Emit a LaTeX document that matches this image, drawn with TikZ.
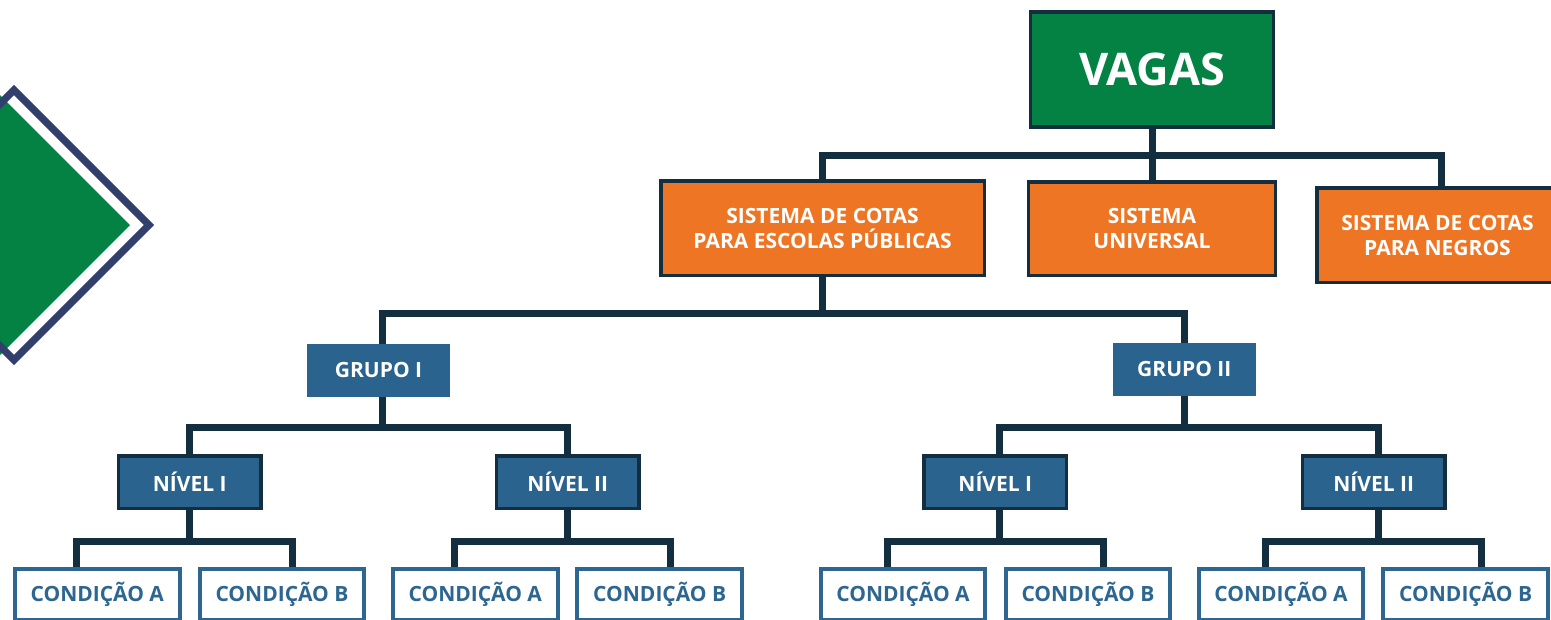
\documentclass[tikz,border=0pt]{standalone}
\usepackage{fontspec}
\setmainfont{Open Sans}
\definecolor{dline}{HTML}{132E3E}
\definecolor{vgreen}{HTML}{038243}
\definecolor{orng}{HTML}{EE7524}
\definecolor{bblue}{HTML}{2A638D}
\definecolor{cblue}{HTML}{2D6690}
\definecolor{dnavy}{HTML}{323E6C}
\begin{document}
\begin{tikzpicture}[x=1pt,y=-1pt,
  conn/.style={draw=dline, line width=7},
  lbl/.style={font=\fontsize{21}{25}\selectfont\bfseries, align=center, inner sep=0},
  topbox/.style={draw=dline, line width=3.7, fill=vgreen, text=white, font=\fontsize{45}{50}\selectfont\bfseries, minimum width=243, minimum height=115, inner sep=0},
  orbox/.style={lbl, draw=dline, line width=3.5, fill=orng, text=white, minimum height=94.5},
  grbox/.style={lbl, fill=bblue, text=white, minimum width=142.5, minimum height=52.5},
  nvbox/.style={lbl, draw=dline, line width=3.5, fill=bblue, text=white, minimum width=142.5, minimum height=52.2},
  cdbox/.style={lbl, draw=cblue, line width=4, fill=white, text=cblue, minimum width=164.6, minimum height=51}
]
\useasboundingbox (0,0) rectangle (1551,619);
\fill[white] (0,0) rectangle (1551,619);
\clip (0,0) rectangle (1551,619);

% decorative diamond
\fill[vgreen] (0,95) -- (130,225) -- (0,355) -- (-130,225) -- cycle;
\draw[dnavy, line width=7.3, line join=miter] (14,90) -- (149,225) -- (14,360) -- (-121,225) -- cycle;

% nodes
\node[topbox] (vagas) at (1152,69.3) {VAGAS};
\node[orbox, minimum width=323.5] (escolas) at (822.5,228) {SISTEMA DE COTAS\\PARA ESCOLAS PÚBLICAS};
\node[orbox, minimum width=247, minimum height=93.5] (universal) at (1152,228.5) {SISTEMA\\UNIVERSAL};
\node[orbox, minimum width=241] (negros) at (1437.5,235) {SISTEMA DE COTAS\\PARA NEGROS};

\node[grbox] (g1) at (378.5,370.3) {GRUPO I};
\node[grbox] (g2) at (1184.3,369.3) {GRUPO II};

\node[nvbox] (n1) at (189.7,482.2) {NÍVEL I};
\node[nvbox] (n2) at (567.7,482.2) {NÍVEL II};
\node[nvbox] (n3) at (995.3,482.2) {NÍVEL I};
\node[nvbox] (n4) at (1373.7,482.2) {NÍVEL II};

\node[cdbox] (c1a) at (97.3,594.5) {CONDIÇÃO A};
\node[cdbox] (c1b) at (282,594.5) {CONDIÇÃO B};
\node[cdbox] (c2a) at (475.3,594.5) {CONDIÇÃO A};
\node[cdbox] (c2b) at (659.7,594.5) {CONDIÇÃO B};
\node[cdbox] (c3a) at (903,594.5) {CONDIÇÃO A};
\node[cdbox] (c3b) at (1088,594.5) {CONDIÇÃO B};
\node[cdbox] (c4a) at (1281,594.5) {CONDIÇÃO A};
\node[cdbox] (c4b) at (1465.7,594.5) {CONDIÇÃO B};

% connectors
\draw[conn] (vagas.south) -- (universal.north);
\draw[conn] (vagas.south) -- ++(0,26.7) -| (escolas.north);
\draw[conn] (vagas.south) -- ++(0,26.7) -| ([xshift=4]negros.north);

\draw[conn] (escolas.south) -- ++(0,36.5) -| ([xshift=3.5]g1.north);
\draw[conn] (escolas.south) -- ++(0,36.5) -| (g2.north);

\draw[conn] ([xshift=3.5]g1.south) -- ++(0,30.3) -| (n1.north);
\draw[conn] ([xshift=3.5]g1.south) -- ++(0,30.3) -| (n2.north);
\draw[conn] (g2.south) -- ++(0,31.3) -| ([xshift=4.4]n3.north);
\draw[conn] (g2.south) -- ++(0,31.3) -| ([xshift=4.3]n4.north);

\draw[conn] (n1.south) -- ++(0,31.7) -| ([xshift=-21.3]c1a.north);
\draw[conn] (n1.south) -- ++(0,31.7) -| ([xshift=10.3]c1b.north);
\draw[conn] (n2.south) -- ++(0,31.7) -| ([xshift=-21.3]c2a.north);
\draw[conn] (n2.south) -- ++(0,31.7) -| ([xshift=10.3]c2b.north);
\draw[conn] ([xshift=4.4]n3.south) -- ++(0,31.7) -| ([xshift=-15.3]c3a.north);
\draw[conn] ([xshift=4.4]n3.south) -- ++(0,31.7) -| ([xshift=15.3]c3b.north);
\draw[conn] ([xshift=4.3]n4.south) -- ++(0,31.7) -| ([xshift=-15.5]c4a.north);
\draw[conn] ([xshift=4.3]n4.south) -- ++(0,31.7) -| ([xshift=15.3]c4b.north);
\end{tikzpicture}
\end{document}
